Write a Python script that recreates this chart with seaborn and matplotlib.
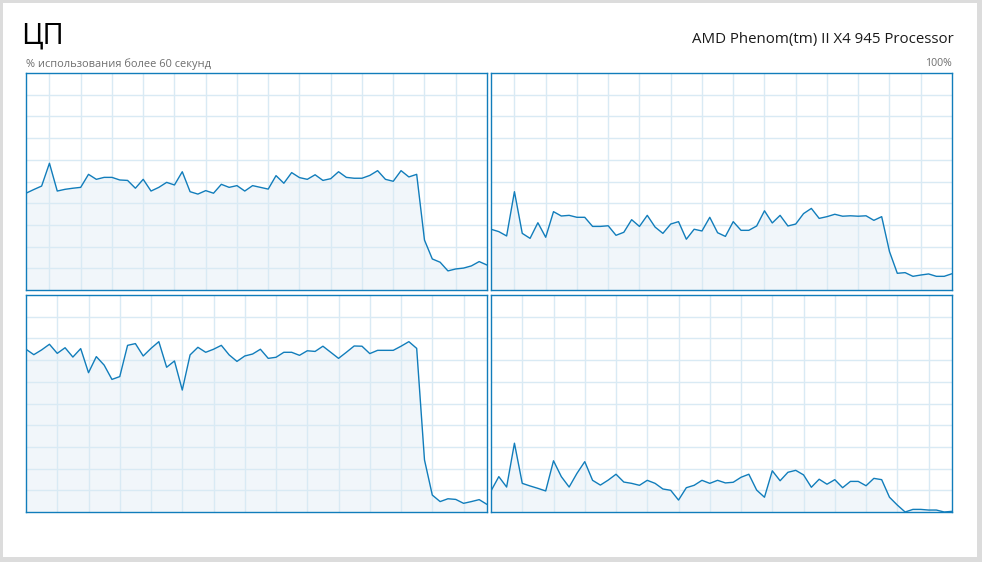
import matplotlib
matplotlib.use("Agg")
import matplotlib.pyplot as plt
import seaborn as sns
import numpy as np
import pandas as pd
from matplotlib.patches import Rectangle

# 60 секунд, по одной точке в секунду
seconds = list(range(60))

core0 = [44.6, 46.3, 47.9, 58.4, 45.6, 46.4, 46.9, 47.3, 53.3, 51.0,
         51.9, 51.9, 50.7, 50.5, 46.9, 51.0, 45.6, 47.3, 49.6, 48.4,
         54.5, 45.3, 44.2, 45.8, 44.6, 48.7, 47.3, 48.1, 45.6, 48.1,
         47.3, 46.5, 52.7, 49.2, 54.1, 51.8, 51.0, 53.1, 50.5, 51.3,
         54.5, 51.9, 51.5, 51.5, 52.8, 55.0, 51.0, 50.1, 55.0, 52.1,
         53.3, 23.0, 14.3, 12.8, 8.8, 9.7, 10.1, 11.1, 13.1, 11.5]
core1 = [28.0, 26.9, 24.9, 45.3, 26.1, 23.8, 31.0, 24.3, 36.1, 34.1,
         34.4, 33.5, 33.5, 29.3, 29.3, 29.6, 25.2, 26.6, 32.4, 29.3,
         34.4, 29.0, 26.1, 30.4, 31.5, 23.4, 28.0, 27.2, 33.5, 26.4,
         24.7, 31.5, 27.5, 27.5, 29.5, 36.5, 30.9, 34.4, 29.5, 30.4,
         35.2, 37.6, 33.0, 33.8, 34.9, 34.0, 34.2, 34.0, 34.2, 32.1,
         33.8, 17.7, 7.7, 8.0, 6.3, 6.9, 7.4, 6.3, 6.3, 7.5]
core2 = [75.0, 72.5, 74.7, 77.3, 73.1, 75.7, 71.4, 75.3, 64.2, 71.6,
         67.7, 61.1, 62.4, 76.8, 77.6, 71.9, 75.4, 78.5, 66.7, 69.6,
         56.2, 72.4, 75.9, 73.6, 75.0, 76.8, 72.4, 69.4, 71.9, 72.8,
         75.0, 70.8, 71.3, 73.6, 73.6, 72.2, 74.3, 74.0, 76.4, 73.6,
         70.8, 73.6, 76.5, 76.4, 73.0, 74.5, 74.5, 74.5, 76.4, 78.5,
         75.4, 24.0, 7.8, 4.8, 6.1, 5.8, 4.0, 4.8, 5.7, 3.5]
core3 = [9.7, 16.3, 11.5, 31.7, 13.2, 12.0, 10.9, 9.7, 23.6, 16.3,
         11.5, 17.8, 23.2, 14.6, 12.4, 14.7, 17.4, 13.8, 13.2, 12.3,
         14.6, 13.2, 10.6, 10.0, 5.5, 11.2, 12.3, 14.6, 13.2, 14.6,
         13.4, 13.7, 16.0, 17.4, 10.1, 6.8, 19.0, 14.4, 18.3, 19.2,
         17.1, 11.4, 15.1, 12.8, 14.9, 11.2, 14.1, 14.1, 12.1, 15.5,
         14.9, 6.8, 3.2, 0.0, 1.2, 1.2, 0.9, 0.9, 0.0, 0.3]
cores = [core0, core1, core2, core3]

title_text = "ЦП"
subtitle_text = "% использования более 60 секунд"
cpu_name = "AMD Phenom(tm) II X4 945 Processor"
max_label = "100%"

line_color = "#117DBB"
fill_color = "#F1F6FA"
grid_color = "#D9EAF4"

sns.set_theme(style="white")
plt.rcParams["font.family"] = ["Open Sans", "DejaVu Sans"]

W, H = 982, 562
fig = plt.figure(figsize=(W / 100, H / 100), dpi=100, facecolor="#DCDCDC")
fig.patches.append(Rectangle((3 / W, 1 - 557 / H), 974 / W, 554 / H,
                             transform=fig.transFigure, facecolor="white",
                             edgecolor="none", zorder=-5))

# положение панелей в пикселях: (left, top)
panels = [(26, 73), (491, 73), (26, 295), (491, 295)]
pw, ph = 461, 217

for i, (left, top) in enumerate(panels):
    ax = fig.add_axes([left / W, 1 - (top + ph) / H, pw / W, ph / H])
    ax.set_zorder(2)
    df = pd.DataFrame({"t": seconds, "v": cores[i]})
    ax.fill_between(df["t"], 0, df["v"], color=fill_color, lw=0, zorder=0.2)
    sns.lineplot(data=df, x="t", y="v", ax=ax, color=line_color,
                 linewidth=1.0, zorder=3)
    ax.set_xlim(0, 59)
    ax.set_ylim(0, 100)
    # сетка сдвигается со временем: у верхнего ряда сдвиг 3 секунды
    start = 3 if i < 2 else 4
    ax.set_xticks(np.arange(start, 59, 4))
    ax.set_yticks(np.arange(10, 100, 10))
    ax.set_axisbelow(True)
    ax.grid(True, color=grid_color, linewidth=1)
    ax.tick_params(length=0, labelbottom=False, labelleft=False)
    ax.set_xlabel("")
    ax.set_ylabel("")
    for s in ax.spines.values():
        s.set_color(line_color)
        s.set_linewidth(1.0)

fig.text(21 / W, 1 - 36 / H, title_text, fontsize=21, color="#000000",
         va="center", ha="left")
fig.text(26 / W, 1 - 64 / H, subtitle_text, fontsize=7.9, color="#6E6E6E",
         va="center", ha="left")
fig.text(954 / W, 1 - 40 / H, cpu_name, fontsize=10.8, color="#1A1A1A",
         va="center", ha="right")
fig.text(952 / W, 1 - 64 / H, max_label, fontsize=7.6, color="#6E6E6E",
         va="center", ha="right")

fig.savefig("out.png", dpi=100, facecolor=fig.get_facecolor())
